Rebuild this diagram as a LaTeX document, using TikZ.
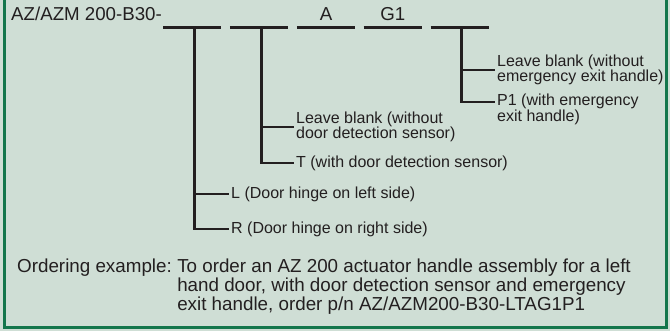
\documentclass[tikz,border=0pt]{standalone}
\usepackage{fontspec}
\setmainfont{Liberation Sans}
\usepackage{xcolor}
\usetikzlibrary{calc, positioning}

\definecolor{panelfill}{RGB}{207,222,213}
\definecolor{panelgreen}{RGB}{20,118,76}
\definecolor{ink}{RGB}{35,31,32}

\begin{document}
\begin{tikzpicture}[
        x=1pt, y=-1pt,
        node distance=0pt and 8.5pt,
        code/.style={
            inner sep=0pt,
            text=ink,
            font=\fontsize{18.7}{19}\selectfont
        },
        slot/.style={
            inner sep=0pt,
            minimum width=58pt,
            minimum height=0pt
        },
        branch/.style={
            inner sep=2pt,
            align=left,
            text=ink,
            font=\fontsize{16}{15.5}\selectfont
        },
        note/.style={
            inner sep=0pt,
            align=left,
            text=ink,
            font=\fontsize{18.8}{19}\selectfont
        },
        bar/.style={
            draw=ink,
            line width=2.7pt
        }
    ]
        % Panel
        \fill[panelfill] (0,0) rectangle (670,331);
        \useasboundingbox (0,0) rectangle (670,331);
        \draw[panelgreen, line width=3pt] (4.5,0) -- (4.5,327.5) -- (666.5,327.5) -- (666.5,0);

        % Part number and its slots
        \node (partno) [code, anchor=base west] at (11,21) {AZ/AZM 200-B30-};
        \node (s1) [slot, anchor=west] at (163,27.5) {};
        \node (s2) [slot, right=of s1] {};
        \node (s3) [slot, right=of s2] {};
        \node (s4) [slot, right=of s3] {};
        \node (s5) [slot, right=of s4] {};
        \node (codeA) [code, above=6.8pt of s3] {A};
        \node (codeG) [code, above=6.8pt of s4] {G1};

        \foreach \s in {s1,s2,s3,s4,s5}
            \draw[bar] (\s.west) -- (\s.east);

        % Drop points
        \coordinate (d1) at ($(s1.center)+(2.5,0)$);
        \coordinate (d2) at ($(s2.center)+(2.5,0)$);
        \coordinate (d5) at ($(s5.center)+(2,0)$);

        % Tick ends
        \coordinate (tipL) at (229,194);
        \coordinate (tipR) at (229,229);
        \coordinate (tipNoSensor) at (294,127);
        \coordinate (tipT) at (294,163);
        \coordinate (tipNoExit) at (495,70);
        \coordinate (tipP) at (495,102);

        % Options
        \node (hingeL) [branch, anchor=west] at (tipL) {L (Door hinge on left side)};
        \node (hingeR) [branch, anchor=west] at (tipR) {R (Door hinge on right side)};
        \node (noSensor) [branch, anchor=west] at (tipNoSensor) {Leave blank (without\\door detection sensor)};
        \node (sensorT) [branch, anchor=west] at (tipT) {T (with door detection sensor)};
        \node (noExit) [branch, anchor=west] at (tipNoExit) {Leave blank (without\\emergency exit handle)};
        \node (exitP) [branch, anchor=west, yshift=-7.5pt] at (tipP) {P1 (with emergency\\exit handle)};

        % Connections
        \draw[bar] (d1) |- (tipR);
        \draw[bar] (d1 |- tipL) -- (tipL);
        \draw[bar] (d2) |- (tipT);
        \draw[bar] (d2 |- tipNoSensor) -- (tipNoSensor);
        \draw[bar] (d5) |- (tipP);
        \draw[bar] (d5 |- tipNoExit) -- (tipNoExit);

        % Ordering example
        \node (orderlbl) [note, anchor=base west] at (17,273) {Ordering example:};
        \node (ordertext) [note, anchor=north west] at ($(orderlbl.north east)+(5,0)$) {To order an AZ 200 actuator handle assembly for a left\\hand door, with door detection sensor and emergency\\exit handle, order p/n AZ/AZM200-B30-LTAG1P1};
    \end{tikzpicture}
\end{document}
